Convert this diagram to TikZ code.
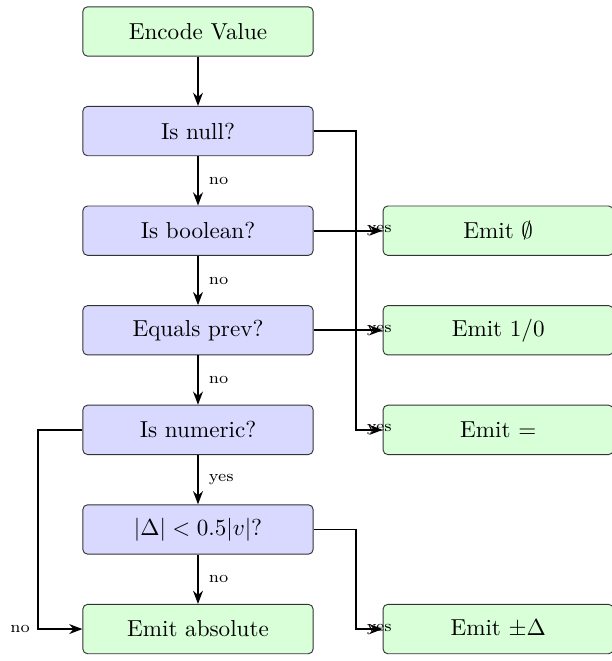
\documentclass[tikz,border=0pt]{standalone}
\usepackage{tikz}
\usetikzlibrary{arrows.meta,positioning}
\tikzset{
    decision/.style={rectangle, draw=black!80, fill=blue!15, rounded corners=2pt, minimum width=3.5cm, minimum height=0.75cm, align=center},
    action/.style={rectangle, draw=black!80, fill=green!15, rounded corners=2pt, minimum width=3.5cm, minimum height=0.75cm, align=center},
    flow/.style={-{Stealth[length=2mm]}, thick},
    branch/.style={font=\scriptsize},
    yeslbl/.style={font=\scriptsize, at end, xshift=-0.05cm},
}

\begin{document}
\begin{tikzpicture}[node distance=0.75cm and 1.05cm]
    \useasboundingbox (-3.01,0.479) rectangle (6.29,-9.57);

    \node[action] (enc) {Encode Value};
    \node[decision, below=of enc] (isnull) {Is null?};
    \node[decision, below=of isnull] (isbool) {Is boolean?};
    \node[decision, below=of isbool] (eqprev) {Equals prev?};
    \node[decision, below=of eqprev] (isnum) {Is numeric?};
    \node[decision, below=of isnum] (small) {$|\Delta| < 0.5|v|$?};
    \node[action, below=of small] (emitabs) {Emit absolute};

    \node[action, right=of isbool] (emitnull) {Emit $\emptyset$};
    \node[action, right=of eqprev] (emitbool) {Emit $1/0$};
    \node[action, right=of isnum] (emiteq) {Emit $=$};
    \node[action, right=of emitabs] (emitdelta) {Emit $\pm\Delta$};

    \draw[flow] (enc) -- (isnull);
    \draw[flow] (isnull) -- node[branch, right=1pt] {no} (isbool);
    \draw[flow] (isbool) -- node[branch, right=1pt] {no} (eqprev);
    \draw[flow] (eqprev) -- node[branch, right=1pt] {no} (isnum);
    \draw[flow] (isnum) -- node[branch, right=1pt] {yes} (small);
    \draw[flow] (small) -- node[branch, right=1pt] {no} (emitabs);

    \draw[flow] (isnull.east) -- ++(0.64,0) |- node[yeslbl] {yes} (emiteq.west);
    \draw[flow] (isbool) -- node[yeslbl] {yes} (emitnull);
    \draw[flow] (eqprev) -- node[yeslbl] {yes} (emitbool);
    \draw[flow] (small.east) -- ++(0.64,0) |- node[yeslbl] {yes} (emitdelta.west);
    \draw[flow] (isnum.west) -- ++(-0.67,0) |- node[branch, pos=0.5, left=0pt] {no} (emitabs.west);
\end{tikzpicture}
\end{document}
